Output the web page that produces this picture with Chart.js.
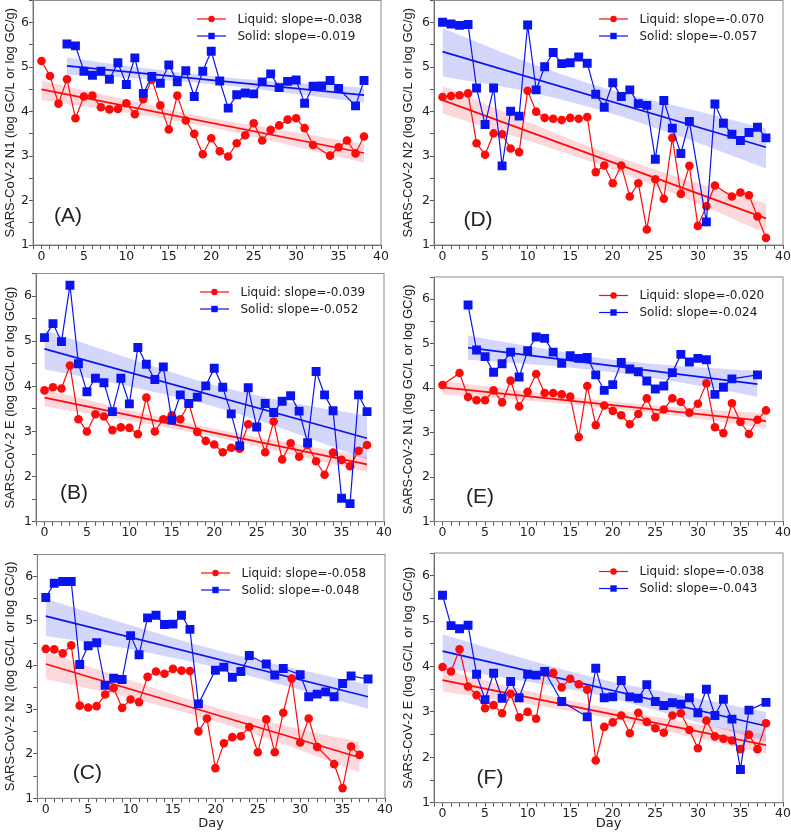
<!DOCTYPE html>
<html>
<head>
<meta charset="utf-8">
<script src="https://cdn.jsdelivr.net/npm/chart.js@4.4.1/dist/chart.umd.min.js"></script>
<style>
html, body { margin: 0; padding: 0; background: #fff; width: 791px; height: 835px; overflow: hidden; position: relative; }
canvas { position: absolute; }
</style>
</head>
<body>
<canvas id="chartA"></canvas>
<canvas id="chartB"></canvas>
<canvas id="chartC"></canvas>
<canvas id="chartD"></canvas>
<canvas id="chartE"></canvas>
<canvas id="chartF"></canvas>
<script>
const days = [0, 1, 2, 3, 4, 5, 6, 7, 8, 9, 10, 11, 12, 13, 14, 15, 16, 17, 18, 19,
    20, 21, 22, 23, 24, 25, 26, 27, 28, 29, 30, 31, 32, 33, 34, 35, 36, 37, 38];

const xTicks = [0, 5, 10, 15, 20, 25, 30, 35, 40];
const yTicks = [1, 2, 3, 4, 5, 6];

// (A) N1
const liquidA = [5.14, 4.80, 4.18, 4.73, 3.85, 4.34, 4.36, 4.10, 4.05, 4.06, 4.19, 3.94, 4.28, 4.72, 4.14, 3.60, 4.36, 3.80, 3.50, 3.04,
    3.40, 3.11, 2.99, 3.29, 3.47, 3.74, 3.35, 3.59, 3.69, 3.82, 3.85, 3.63, 3.25, null, 3.01, 3.20, 3.35, 3.06, 3.44];
const solidA = [null, null, null, 5.52, 5.48, 4.91, 4.82, 4.91, 4.73, 5.10, 4.61, 5.21, 4.41, 4.79, 4.64, 5.05, 4.67, 4.92, 4.34, 4.91,
    5.36, 4.69, 4.08, 4.38, 4.42, 4.40, 4.67, 4.85, 4.54, 4.68, 4.71, 4.19, 4.57, 4.58, 4.70, 4.52, null, 4.13, 4.70];
const liquidFitA = [[0, 4.50], [38, 3.07]];
const solidFitA = [[3, 5.03], [38, 4.37]];
const liquidBandA = [[0, 4.26, 4.70], [9.5, 3.99, 4.29], [19, 3.68, 3.89], [28.5, 3.28, 3.58], [38, 2.85, 3.27]];
const solidBandA = [[3, 4.83, 5.22], [12, 4.74, 4.98], [20.5, 4.61, 4.79], [29, 4.42, 4.66], [38, 4.20, 4.54]];

// (B) E
const liquidB = [3.91, 3.98, 3.95, 4.46, 3.27, 3.00, 3.38, 3.33, 3.03, 3.09, 3.08, 2.94, 3.75, 3.00, 3.27, 3.36, 3.27, 3.62, 2.99, 2.79,
    2.71, 2.54, 2.64, 2.62, 3.16, 3.10, 2.54, 3.22, 2.38, 2.74, 2.44, 2.70, 2.34, 2.04, 2.53, 2.37, 2.23, 2.57, 2.70];
const solidB = [5.08, 5.39, 4.99, 6.24, 4.50, 3.88, 4.18, 4.08, 3.44, 4.18, 3.61, 4.86, 4.49, 4.15, 4.43, 3.25, 3.81, 3.62, 3.76, 4.01,
    4.40, 3.98, 3.39, 2.68, 3.97, 3.10, 3.62, 3.42, 3.67, 3.79, 3.45, 2.75, 4.33, 3.81, 3.46, 1.52, 1.40, 3.81, 3.44];
const liquidFitB = [[0, 3.75], [38, 2.27]];
const solidFitB = [[0, 4.83], [38, 2.85]];
const liquidBandB = [[0, 3.56, 3.93], [9.5, 3.26, 3.50], [19, 2.92, 3.10], [28.5, 2.52, 2.76], [38, 2.10, 2.44]];
const solidBandB = [[0, 4.38, 5.25], [9.5, 4.02, 4.65], [19, 3.60, 4.08], [28.5, 3.03, 3.66], [38, 2.37, 3.35]];

// (C) N2
const liquidC = [4.37, 4.36, 4.27, 4.45, 3.09, 3.05, 3.08, 3.34, 3.49, 3.04, 3.23, 3.17, 3.74, 3.86, 3.81, 3.92, 3.88, 3.87, 2.51, 2.80,
    1.68, 2.24, 2.38, 2.40, 2.61, 2.04, 2.78, 2.04, 2.93, 3.70, 2.26, 2.80, 2.16, null, 1.77, 1.23, 2.17, 1.98, null];
const solidC = [5.53, 5.85, 5.89, 5.89, 4.02, 4.44, 4.51, 3.55, 3.71, 3.68, 4.67, 4.24, 5.07, 5.13, 4.92, 4.93, 5.13, 4.81, 3.13, null,
    3.89, 3.96, 3.73, 3.86, 4.22, null, 4.03, 3.78, 3.93, null, 3.79, 3.29, 3.35, 3.40, 3.29, 3.59, 3.76, null, 3.69];
const liquidFitC = [[0, 4.03], [37, 1.92]];
const solidFitC = [[0, 5.11], [38, 3.29]];
const liquidBandC = [[0, 3.69, 4.30], [9.25, 3.29, 3.71], [18.5, 2.82, 3.14], [27.75, 2.24, 2.66], [37, 1.58, 2.27]];
const solidBandC = [[0, 4.66, 5.50], [9.5, 4.38, 4.93], [19, 4.00, 4.40], [28.5, 3.53, 3.96], [38, 3.02, 3.56]];

// (D) N2
const liquidD = [4.33, 4.35, 4.37, 4.41, 3.29, 3.03, 3.51, 3.49, 3.17, 3.09, 4.47, 4.00, 3.86, 3.84, 3.81, 3.86, 3.84, 3.88, 2.64, 2.79,
    2.39, 2.79, 2.09, 2.39, 1.35, 2.48, 2.04, 3.41, 2.15, 2.78, 1.43, 1.87, 2.34, null, 2.09, 2.18, 2.12, 1.64, 1.16];
const solidD = [6.01, 5.97, 5.94, 5.96, 4.53, 3.71, 4.53, 2.78, 4.01, 3.90, 5.95, 4.49, 5.01, 5.33, 5.08, 5.10, 5.23, 5.09, 4.39, 4.10,
    4.65, 4.34, 4.49, 4.18, 4.14, 2.93, 4.25, 3.63, 3.06, 3.78, null, 1.52, 4.17, 3.74, 3.49, 3.35, 3.53, 3.65, 3.41];
const liquidFitD = [[0, 4.26], [38, 1.60]];
const solidFitD = [[0, 5.35], [38, 3.20]];
const liquidBandD = [[0, 3.96, 4.58], [9.5, 3.38, 3.81], [19, 2.77, 3.09], [28.5, 2.05, 2.48], [38, 1.26, 1.94]];
const solidBandD = [[0, 4.79, 5.88], [9.5, 4.47, 5.15], [19, 4.01, 4.53], [28.5, 3.40, 4.08], [38, 2.72, 3.62]];

// (E) N1
const liquidE = [4.07, null, 4.34, 3.80, 3.73, 3.73, 3.95, 3.68, 4.17, 3.59, 3.92, 4.32, 3.89, 3.89, 3.86, 3.81, 2.90, 4.05, 3.17, 3.61,
    3.49, 3.39, 3.19, 3.42, 3.77, 3.35, 3.52, 3.77, 3.69, 3.45, 3.65, 4.11, 3.12, 2.99, 3.66, 3.24, 2.97, 3.29, 3.50];
const solidE = [null, null, null, 5.87, 4.86, 4.71, 4.36, 4.55, 4.81, 4.25, 4.84, 5.15, 5.12, 4.81, 4.56, 4.73, 4.67, 4.69, 4.30, 3.95,
    4.08, 4.58, 4.43, 4.37, 4.16, 3.98, 4.05, 4.35, 4.76, 4.59, 4.67, 4.64, 3.86, 4.02, 4.21, null, null, 4.30, null];
const liquidFitE = [[0, 4.02], [38, 3.26]];
const solidFitE = [[3, 4.91], [37, 4.09]];
const liquidBandE = [[0, 3.86, 4.16], [9.5, 3.73, 3.94], [19, 3.56, 3.72], [28.5, 3.35, 3.56], [38, 3.10, 3.43]];
const solidBandE = [[3, 4.64, 5.18], [11.5, 4.52, 4.90], [20, 4.36, 4.64], [28.5, 4.11, 4.49], [37, 3.81, 4.39]];

// (F) E
const liquidF = [3.99, 3.89, 4.38, 3.56, 3.37, 3.08, 3.15, 2.97, 3.40, 2.88, 3.00, 2.85, 3.87, 3.86, 3.54, 3.73, 3.61, 3.49, 1.93, 2.67,
    2.77, 2.92, 2.53, 2.98, 2.78, 2.64, 2.54, 2.92, 2.97, 2.60, 2.20, 2.81, 2.46, 2.41, 2.37, 2.18, 2.50, 2.18, 2.75];
const solidF = [5.57, 4.90, 4.83, 4.91, 3.83, 3.27, 3.85, 3.30, 3.67, 3.31, 3.83, 3.81, 3.89, null, 3.23, null, null, 2.89, 3.96, 3.31,
    3.33, 3.69, 3.33, 3.30, 3.60, 3.23, 3.14, 3.20, 3.17, 3.31, 2.98, 3.50, 2.92, 3.28, 2.84, 1.73, 3.04, null, 3.21];
const liquidFitF = [[0, 3.70], [38, 2.27]];
const solidFitF = [[0, 4.34], [38, 2.69]];
const liquidBandF = [[0, 3.45, 3.93], [9.5, 3.19, 3.49], [19, 2.88, 3.10], [28.5, 2.48, 2.78], [38, 2.08, 2.50]];
const solidBandF = [[0, 3.97, 4.71], [9.5, 3.68, 4.18], [19, 3.34, 3.70], [28.5, 2.85, 3.35], [38, 2.35, 3.00]];

const RED = "#ff0a0a";
const BLUE = "#0a14f0";
const PINK = "rgba(240, 60, 80, 0.2)";
const LAVENDER = "rgba(40, 50, 240, 0.2)";
const TEXT = "#222";

// page layout: canvas = [x, y, w, h], area = plot box [left, top, right, bottom]
const panels = [
    { id: "chartA", tag: "(A)", yTitle: "SARS-CoV-2 N1 (log GC/L or log GC/g)", slopes: ["-0.038", "-0.019"],
      liquid: liquidA, solid: solidA, liquidFit: liquidFitA, solidFit: solidFitA, liquidBand: liquidBandA, solidBand: solidBandA,
      canvas: [0, -15, 395, 280], area: [33, 0.5, 381, 245], titleX: 10, tagAt: [35, -29], day: false },
    { id: "chartB", tag: "(B)", yTitle: "SARS-CoV-2 E (log GC/L or log GC/g)", slopes: ["-0.039", "-0.052"],
      liquid: liquidB, solid: solidB, liquidFit: liquidFitB, solidFit: solidFitB, liquidBand: liquidBandB, solidBand: solidBandB,
      canvas: [0, 255, 395, 290], area: [36, 273.5, 384, 521.7], titleX: 10, tagAt: [38, -28], day: false },
    { id: "chartC", tag: "(C)", yTitle: "SARS-CoV-2 N2 (log GC/L or log GC/g)", slopes: ["-0.058", "-0.048"],
      liquid: liquidC, solid: solidC, liquidFit: liquidFitC, solidFit: solidFitC, liquidBand: liquidBandC, solidBand: solidBandC,
      canvas: [0, 535, 395, 300], area: [37.3, 554.5, 385, 798.3], titleX: 10.5, tagAt: [50, -25], day: true },
    { id: "chartD", tag: "(D)", yTitle: "SARS-CoV-2 N2 (log GC/L or log GC/g)", slopes: ["-0.070", "-0.057"],
      liquid: liquidD, solid: solidD, liquidFit: liquidFitD, solidFit: solidFitD, liquidBand: liquidBandD, solidBand: solidBandD,
      canvas: [395, -15, 410, 280], area: [434, 0.5, 783, 245], titleX: 13, tagAt: [44, -25], day: false },
    { id: "chartE", tag: "(E)", yTitle: "SARS-CoV-2 N1 (log GC/L or log GC/g)", slopes: ["-0.020", "-0.024"],
      liquid: liquidE, solid: solidE, liquidFit: liquidFitE, solidFit: solidFitE, liquidBand: liquidBandE, solidBand: solidBandE,
      canvas: [395, 255, 410, 290], area: [434, 277, 783, 521.6], titleX: 13.5, tagAt: [46, -24], day: false },
    { id: "chartF", tag: "(F)", yTitle: "SARS-CoV-2 E (log GC/L or log GC/g)", slopes: ["-0.038", "-0.043"],
      liquid: liquidF, solid: solidF, liquidFit: liquidFitF, solidFit: solidFitF, liquidBand: liquidBandF, solidBand: solidBandF,
      canvas: [395, 535, 410, 300], area: [434, 553, 783, 802.7], titleX: 13.5, tagAt: [56, -24], day: true }
];

function toPoints(values) {
    const points = [];
    values.forEach((v, i) => {
        if (v !== null) points.push({ x: days[i], y: v });
    });
    return points;
}

function bandDatasets(band, color) {
    return [
        { data: band.map(b => ({ x: b[0], y: b[1] })), showLine: true, borderWidth: 0, borderColor: "transparent",
          pointRadius: 0, fill: false, cubicInterpolationMode: "monotone", order: 6 },
        { data: band.map(b => ({ x: b[0], y: b[2] })), showLine: true, borderWidth: 0, borderColor: "transparent",
          pointRadius: 0, fill: "-1", backgroundColor: color, cubicInterpolationMode: "monotone", order: 6 }
    ];
}

function fitDataset(fit, color) {
    return { data: fit.map(f => ({ x: f[0], y: f[1] })), showLine: true, borderColor: color, borderWidth: 1.7,
             pointRadius: 0, fill: false, order: 3 };
}

// frame, legend and panel letter
const panelDecor = {
    id: "panelDecor",
    afterDraw(chart, args, opts) {
        const ctx = chart.ctx;
        const a = chart.chartArea;
        ctx.save();

        ctx.strokeStyle = "#8c8c8c";
        ctx.lineWidth = 1;
        ctx.strokeRect(a.left, a.top, a.right - a.left, a.bottom - a.top);

        chart.data.datasets.filter(d => d.legendShape).forEach((d, i) => {
            const y = a.top + 18.5 + i * 17;
            const x0 = a.right - 184;
            ctx.strokeStyle = d.borderColor;
            ctx.lineWidth = 1.2;
            ctx.beginPath();
            ctx.moveTo(x0, y);
            ctx.lineTo(x0 + 29, y);
            ctx.stroke();
            ctx.fillStyle = d.borderColor;
            if (d.legendShape === "circle") {
                ctx.beginPath();
                ctx.arc(x0 + 14.5, y, 3.2, 0, Math.PI * 2);
                ctx.fill();
            } else {
                ctx.fillRect(x0 + 11.3, y - 3.2, 6.4, 6.4);
            }
            ctx.fillStyle = TEXT;
            ctx.font = "12px 'DejaVu Sans'";
            ctx.textBaseline = "middle";
            ctx.textAlign = "left";
            ctx.fillText(d.label, a.right - 143.5, y + 0.5);
        });

        ctx.fillStyle = TEXT;
        ctx.font = "21px 'Liberation Sans'";
        ctx.textAlign = "center";
        ctx.textBaseline = "middle";
        ctx.fillText(opts.tag, a.left + opts.tagAt[0], a.bottom + opts.tagAt[1]);
        ctx.restore();
    }
};

panels.forEach(p => {
    const [cx, cy, cw, ch] = p.canvas;
    const [al, at, ar, ab] = p.area;
    const el = document.getElementById(p.id);
    el.width = cw;
    el.height = ch;
    el.style.left = cx + "px";
    el.style.top = cy + "px";

    const yWidth = al - cx;
    const xHeight = cy + ch - ab;
    const tickFont = { family: "DejaVu Sans", size: 12.5 };

    const datasets = [
        { label: "Liquid: slope=" + p.slopes[0], data: toPoints(p.liquid), showLine: true, borderColor: RED,
          backgroundColor: RED, borderWidth: 1.2, pointStyle: "circle", pointRadius: 4.3, pointBorderWidth: 0,
          pointBackgroundColor: RED, order: 2, legendShape: "circle" },
        { label: "Solid: slope=" + p.slopes[1], data: toPoints(p.solid), showLine: true, borderColor: BLUE,
          backgroundColor: BLUE, borderWidth: 1.2, pointStyle: "rect", pointRadius: 6.3, pointBorderWidth: 0,
          pointBackgroundColor: BLUE, order: 1, legendShape: "rect" },
        fitDataset(p.liquidFit, RED),
        fitDataset(p.solidFit, BLUE),
        ...bandDatasets(p.liquidBand, PINK),
        ...bandDatasets(p.solidBand, LAVENDER)
    ];

    new Chart(el, {
        type: "scatter",
        data: { datasets: datasets },
        options: {
            responsive: false,
            animation: false,
            devicePixelRatio: 1,
            events: [],
            layout: { padding: { left: 0, bottom: 0, top: at - cy, right: cx + cw - ar } },
            plugins: {
                legend: { display: false },
                tooltip: { enabled: false },
                panelDecor: { tag: p.tag, tagAt: p.tagAt }
            },
            scales: {
                x: {
                    type: "linear",
                    min: -1,
                    max: 40,
                    afterFit: s => { s.height = xHeight; },
                    border: { color: "#555", width: 1 },
                    grid: { drawOnChartArea: false, tickLength: 4, color: "#555" },
                    ticks: {
                        stepSize: 1,
                        maxTicksLimit: 100,
                        autoSkip: false,
                        maxRotation: 0,
                        minRotation: 0,
                        padding: 0,
                        color: TEXT,
                        font: tickFont,
                        callback: v => xTicks.includes(v) ? String(v) : ""
                    },
                    title: {
                        display: p.day,
                        text: "Day",
                        color: TEXT,
                        font: { family: "DejaVu Sans", size: 13 },
                        padding: { top: 0, bottom: 4 }
                    }
                },
                y: {
                    type: "linear",
                    min: 1,
                    max: 6.5,
                    afterFit: s => { s.width = yWidth; },
                    border: { color: "#555", width: 1 },
                    grid: { drawOnChartArea: false, tickLength: 4, color: "#555" },
                    ticks: {
                        stepSize: 0.5,
                        autoSkip: false,
                        padding: 0,
                        color: TEXT,
                        font: tickFont,
                        callback: v => yTicks.includes(v) ? String(v) : ""
                    },
                    title: {
                        display: true,
                        text: p.yTitle,
                        color: TEXT,
                        font: { family: "Liberation Sans", size: 13 },
                        padding: { top: p.titleX - 7.8, bottom: 0 }
                    }
                }
            }
        },
        plugins: [panelDecor]
    });
});
</script>
</body>
</html>
